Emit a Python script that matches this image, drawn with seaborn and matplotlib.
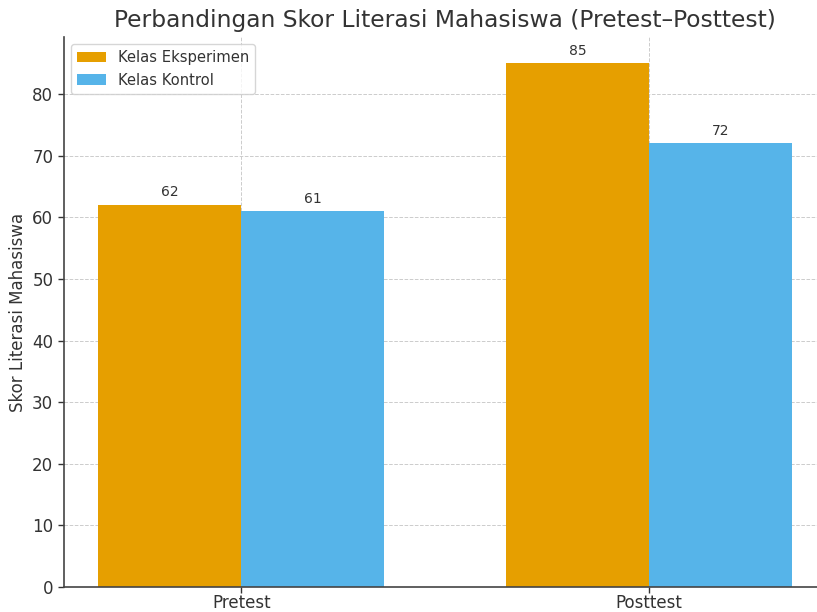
import pandas as pd
import matplotlib
matplotlib.use("Agg")
import matplotlib.pyplot as plt
import seaborn as sns

# Data
tests = ["Pretest", "Posttest"]
kelas = ["Kelas Eksperimen", "Kelas Kontrol"]
skor_eksperimen = [62, 85]
skor_kontrol = [61, 72]
colors = ["#E69F00", "#56B4E9"]

df = pd.DataFrame({
    "Tes": tests * 2,
    "Kelas": [kelas[0]] * len(tests) + [kelas[1]] * len(tests),
    "Skor": skor_eksperimen + skor_kontrol,
})

sns.set_style("white")
plt.rcParams["font.family"] = ["DejaVu Sans"]
text_color = "#333333"

fig = plt.figure(figsize=(8.17, 6.12), dpi=100)
# axes run past the right edge, as in the reference crop
ax = fig.add_axes([0.078, 25 / 612, 0.934, 550 / 612])

sns.barplot(data=df, x="Tes", y="Skor", hue="Kelas", hue_order=kelas,
            order=tests, palette=colors, width=0.7, gap=0, saturation=1,
            linewidth=0, ax=ax)

for container in ax.containers:
    ax.bar_label(container, fmt="%d", padding=4, fontsize=10, color=text_color)

ax.set_xlim(-0.435, 1.435)
ax.set_ylim(0, 89.25)
ax.set_title("Perbandingan Skor Literasi Mahasiswa (Pretest\u2013Posttest)",
             fontsize=16.8, color=text_color, pad=7)
ax.set_xlabel("")
ax.set_ylabel("Skor Literasi Mahasiswa", fontsize=12, color=text_color)
ax.tick_params(axis="both", labelsize=12, colors=text_color, length=4,
               width=1, left=True, bottom=True)
ax.tick_params(axis="x", pad=1)
ax.grid(True, linestyle="--", color="#cccccc", linewidth=0.7)
ax.set_axisbelow(True)
for side in ["top", "right"]:
    ax.spines[side].set_visible(False)
for side in ["left", "bottom"]:
    ax.spines[side].set_color("#444444")
    ax.spines[side].set_linewidth(1.2)

leg = ax.legend(loc="upper left", fontsize=10.6, frameon=True, fancybox=True,
                title=None)
for t in leg.get_texts():
    t.set_color(text_color)

fig.savefig("out.png", dpi=100)
